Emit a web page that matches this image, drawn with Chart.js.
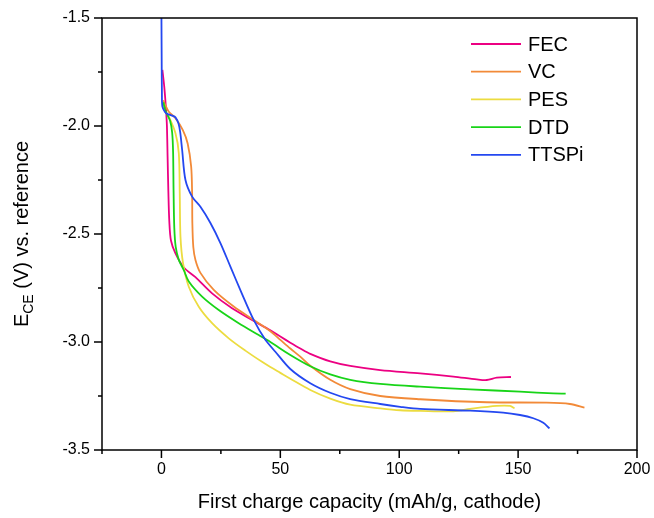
<!DOCTYPE html>
<html>
<head>
<meta charset="utf-8">
<script src="https://cdn.jsdelivr.net/npm/chart.js@4.4.0/dist/chart.umd.min.js"></script>
<style>
  html, body { margin: 0; padding: 0; background: #fff; }
  canvas { display: block; }
</style>
</head>
<body>
<canvas id="chargeChart" width="654" height="518"></canvas>
<script>
const seriesNames = ["FEC", "VC", "PES", "DTD", "TTSPi"];
const seriesColors = ["rgb(236,0,130)", "rgb(242,138,56)", "rgb(236,220,64)", "rgb(24,212,24)", "rgb(36,72,240)"];

// [capacity mAh/g, E_CE V]
const fecPoints = [[0.4,-1.74],[1.2,-1.82],[1.9,-1.92],[2.3,-2.0],[2.6,-2.15],[2.9,-2.3],[3.3,-2.44],[4.0,-2.53],
  [5.9,-2.59],[9.4,-2.655],[14.3,-2.70],[21.3,-2.775],[29.7,-2.844],[38.1,-2.898],[45.8,-2.946],[50,-2.975],
  [54.2,-3.003],[58.4,-3.03],[62.6,-3.055],[71,-3.09],[79.4,-3.111],[92,-3.13],[108.8,-3.145],[122.8,-3.16],
  [132.6,-3.173],[136.8,-3.176],[141,-3.165],[147,-3.162]];
const vcPoints = [[0.8,-1.88],[1.3,-1.895],[3.1,-1.934],[5.9,-1.964],[9.0,-2.019],[11.0,-2.08],[12.5,-2.188],[12.9,-2.31],
  [13.0,-2.45],[13.4,-2.56],[14.3,-2.62],[16.4,-2.68],[22,-2.759],[30.4,-2.836],[38.8,-2.898],[45.8,-2.95],[50,-2.99],
  [54.2,-3.03],[58.4,-3.068],[62.6,-3.11],[71,-3.175],[79.4,-3.218],[92,-3.25],[108.8,-3.265],[136.8,-3.279],
  [162,-3.281],[171.8,-3.287],[177.9,-3.304]];
const pesPoints = [[0.8,-1.9],[1.5,-1.93],[3.1,-1.957],[5.9,-2.034],[7.3,-2.126],[7.7,-2.312],[8.0,-2.512],[9.1,-2.636],
  [11.5,-2.744],[15.7,-2.837],[21.3,-2.913],[28.3,-2.983],[35.3,-3.04],[42.3,-3.092],[45.8,-3.116],[50,-3.143],
  [54.2,-3.17],[62.6,-3.222],[71,-3.262],[79.4,-3.29],[92,-3.307],[100.4,-3.316],[108.8,-3.319],[122.8,-3.321],
  [129.8,-3.31],[141,-3.296],[146.6,-3.296],[148.5,-3.307]];
const dtdPoints = [[0.8,-1.89],[1.7,-1.93],[3.6,-1.975],[4.5,-2.03],[4.9,-2.12],[5.1,-2.3],[5.4,-2.47],[6.0,-2.56],
  [7.3,-2.62],[9.4,-2.667],[11.5,-2.72],[17.1,-2.79],[24.1,-2.852],[32.5,-2.913],[40.9,-2.968],[45.8,-3.0],
  [54.2,-3.06],[62.6,-3.112],[71,-3.15],[79.4,-3.175],[92,-3.194],[108.8,-3.207],[129.8,-3.219],[150.8,-3.23],
  [164.8,-3.238],[170,-3.239]];
const ttspiPoints = [[0,-1.5],[0.1,-1.7],[0.2,-1.85],[0.4,-1.91],[1.5,-1.935],[2.4,-1.944],[4.5,-1.952],[5.9,-1.96],
  [7.2,-1.99],[7.9,-2.03],[8.7,-2.11],[10.1,-2.25],[12.9,-2.327],[16.4,-2.374],[20.6,-2.449],[24.8,-2.542],[29,-2.651],
  [33.6,-2.77],[38.8,-2.898],[43.7,-2.99],[47.9,-3.045],[54.2,-3.125],[62.6,-3.191],[71,-3.235],[79.4,-3.264],
  [92,-3.287],[100.4,-3.30],[108.8,-3.31],[129.8,-3.318],[143.7,-3.327],[150.8,-3.338],[156.4,-3.353],[160.6,-3.374],
  [163.2,-3.40]];

const xTicks = [0, 50, 100, 150, 200];
const yTicks = [-3.5, -3.0, -2.5, -2.0, -1.5];

const allPoints = [fecPoints, vcPoints, pesPoints, dtdPoints, ttspiPoints];

Chart.defaults.font.family = "'Liberation Sans', Arial, sans-serif";
Chart.defaults.color = "#000";

// box around the plot, major/minor tick marks, legend, y title with subscript
const extras = {
  id: "extras",
  afterDatasetsDraw(chart) {
    const { ctx, chartArea: a, scales: { x, y } } = chart;
    ctx.save();
    ctx.strokeStyle = "#000";
    ctx.lineWidth = 1.5;
    ctx.strokeRect(a.left, a.top, a.right - a.left, a.bottom - a.top);
    ctx.beginPath();
    x.ticks.forEach((t) => {
      const px = x.getPixelForValue(t.value);
      const len = t.label ? 8 : 4;
      ctx.moveTo(px, a.bottom);
      ctx.lineTo(px, a.bottom + len);
    });
    y.ticks.forEach((t) => {
      const py = y.getPixelForValue(t.value);
      const len = t.label ? 8 : 4;
      ctx.moveTo(a.left, py);
      ctx.lineTo(a.left - len, py);
    });
    ctx.stroke();

    // legend
    ctx.font = "20px 'Liberation Sans', Arial, sans-serif";
    ctx.textBaseline = "middle";
    ctx.fillStyle = "#000";
    chart.data.datasets.forEach((ds, i) => {
      const ly = 44 + i * 27.7;
      ctx.strokeStyle = ds.borderColor;
      ctx.lineWidth = 1.8;
      ctx.beginPath();
      ctx.moveTo(471, ly);
      ctx.lineTo(521, ly);
      ctx.stroke();
      ctx.fillText(ds.label, 528, ly + 1);
    });

    // y axis title: E_CE (V) vs. reference
    ctx.translate(21, (a.top + a.bottom) / 2);
    ctx.rotate(-Math.PI / 2);
    const big = "20px 'Liberation Sans', Arial, sans-serif";
    const small = "14px 'Liberation Sans', Arial, sans-serif";
    ctx.font = big;
    const wE = ctx.measureText("E").width;
    const wRest = ctx.measureText(" (V) vs. reference").width;
    ctx.font = small;
    const wSub = ctx.measureText("CE").width;
    let cx = -(wE + wSub + wRest) / 2;
    ctx.textBaseline = "alphabetic";
    ctx.font = big;
    ctx.fillText("E", cx, 7);
    cx += wE;
    ctx.font = small;
    ctx.fillText("CE", cx, 12);
    cx += wSub;
    ctx.font = big;
    ctx.fillText(" (V) vs. reference", cx, 7);
    ctx.restore();
  },
};

new Chart(document.getElementById("chargeChart"), {
  type: "scatter",
  data: {
    datasets: seriesNames.map((name, i) => ({
      label: name,
      data: allPoints[i].map(([cx, cy]) => ({ x: cx, y: cy })),
      showLine: true,
      borderColor: seriesColors[i],
      backgroundColor: seriesColors[i],
      borderWidth: 1.8,
      pointRadius: 0,
      tension: 0.3,
      order: seriesNames.length - i,
    })),
  },
  options: {
    responsive: false,
    animation: false,
    layout: { padding: { left: 0, right: 17, top: 18, bottom: 0 } },
    plugins: { legend: { display: false }, tooltip: { enabled: false } },
    scales: {
      x: {
        type: "linear",
        min: -25,
        max: 200,
        afterBuildTicks: (scale) => {
          const t = [];
          for (let v = -25; v <= 200; v += 25) t.push({ value: v });
          scale.ticks = t;
        },
        afterFit: (scale) => { scale.height = 68; },
        grid: { display: false, drawTicks: true, tickLength: 8 },
        border: { display: false },
        ticks: {
          autoSkip: false,
          maxRotation: 0,
          padding: 2,
          font: { size: 16 },
          callback: (v) => (xTicks.includes(v) ? String(v) : ""),
        },
        title: {
          display: true,
          text: "First charge capacity (mAh/g, cathode)",
          font: { size: 20 },
          padding: { top: 6, bottom: 4 },
        },
      },
      y: {
        type: "linear",
        min: -3.5,
        max: -1.5,
        afterBuildTicks: (scale) => {
          const t = [];
          for (let k = 0; k <= 8; k++) t.push({ value: -3.5 + k * 0.25 });
          scale.ticks = t;
        },
        afterFit: (scale) => { scale.width = 102; },
        grid: { display: false, drawTicks: true, tickLength: 8 },
        border: { display: false },
        ticks: {
          autoSkip: false,
          padding: 4,
          font: { size: 16 },
          callback: (v) => (yTicks.some((t) => Math.abs(t - v) < 1e-6) ? v.toFixed(1) : ""),
        },
      },
    },
  },
  plugins: [extras],
});
</script>
</body>
</html>
